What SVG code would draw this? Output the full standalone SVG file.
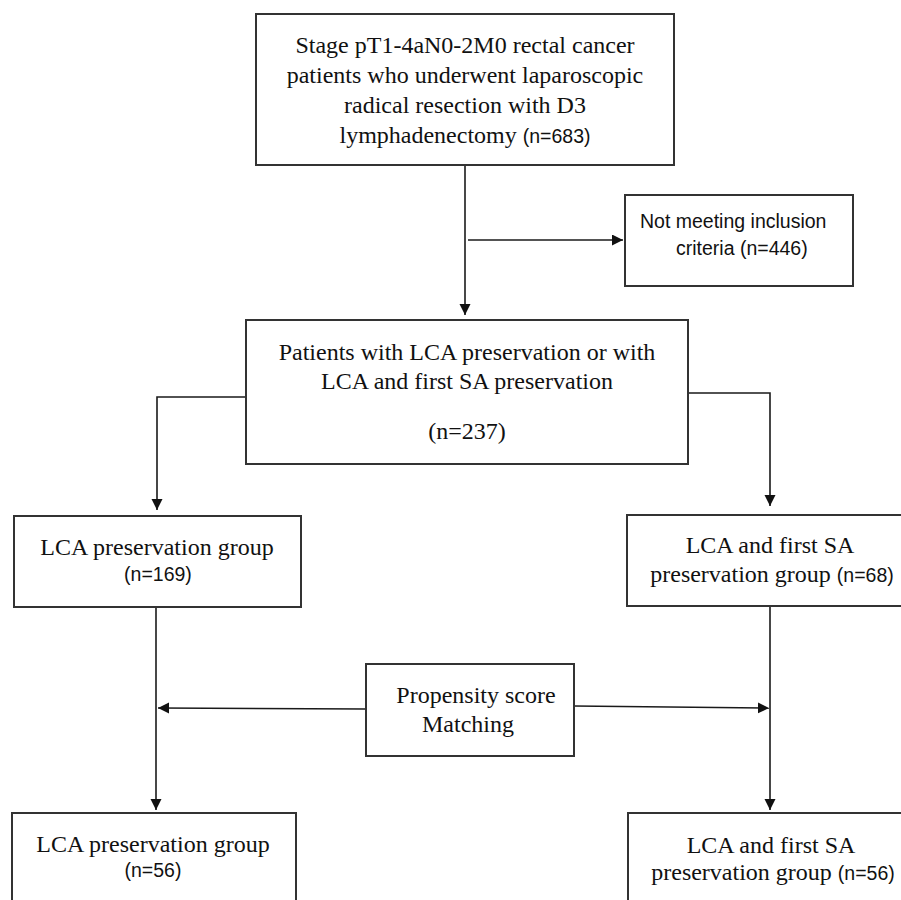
<svg xmlns="http://www.w3.org/2000/svg" width="901" height="900" viewBox="0 0 901 900">
<style>
.box{fill:#fff;stroke:#333;stroke-width:2}
.ln{fill:none;stroke:#1a1a1a;stroke-width:1.6}
.t{font-family:"Liberation Serif","Times New Roman",serif;font-size:24px;fill:#111}
.s{font-family:"Liberation Sans",Arial,sans-serif;font-size:19.5px;fill:#111}
.m{text-anchor:middle}
</style>
<defs>
<marker id="ah" markerUnits="userSpaceOnUse" markerWidth="12" markerHeight="12" refX="11" refY="5.5" orient="auto">
<path d="M0,0 L11,5.5 L0,11 z" fill="#111"/>
</marker>
</defs>
<rect width="901" height="900" fill="#fff"/>
<g id="connectors">
<path class="ln" d="M465,165 V315" marker-end="url(#ah)"/>
<path class="ln" d="M468,240 H623" marker-end="url(#ah)"/>
<path class="ln" d="M246,397 H157 V510" marker-end="url(#ah)"/>
<path class="ln" d="M688,393 H770 V506" marker-end="url(#ah)"/>
<path class="ln" d="M156,607 V810" marker-end="url(#ah)"/>
<path class="ln" d="M770,606 V810" marker-end="url(#ah)"/>
<path class="ln" d="M366,709 L158,708" marker-end="url(#ah)"/>
<path class="ln" d="M574,706 L769,708" marker-end="url(#ah)"/>
</g>
<g id="n-start">
<rect class="box" x="256" y="14" width="418" height="151"/>
<text class="t m" x="465" y="53">Stage pT1-4aN0-2M0 rectal cancer</text>
<text class="t m" x="465" y="83">patients who underwent laparoscopic</text>
<text class="t m" x="465" y="113">radical resection with D3</text>
<text class="t m" x="465" y="143">lymphadenectomy <tspan class="s">(n=683)</tspan></text>
</g>
<g id="n-excluded">
<rect class="box" x="625" y="195" width="228" height="91"/>
<text class="s" x="640" y="228">Not meeting inclusion</text>
<text class="s" x="676" y="255">criteria (n=446)</text>
</g>
<g id="n-eligible">
<rect class="box" x="246" y="320" width="442" height="144"/>
<text class="t m" x="467" y="360">Patients with LCA preservation or with</text>
<text class="t m" x="467" y="389">LCA and first SA preservation</text>
<text class="t m" x="467" y="439">(n=237)</text>
</g>
<g id="n-lca">
<rect class="box" x="14" y="516" width="287" height="91"/>
<text class="t m" x="157" y="555">LCA preservation group</text>
<text class="s m" x="158" y="581">(n=169)</text>
</g>
<g id="n-lcasa">
<rect class="box" x="627" y="515" width="280" height="91"/>
<text class="t m" x="770" y="553">LCA and first SA</text>
<text class="t m" x="772" y="582">preservation group <tspan class="s">(n=68)</tspan></text>
</g>
<g id="n-psm">
<rect class="box" x="366" y="664" width="208" height="92"/>
<text class="t m" x="476" y="703">Propensity score</text>
<text class="t m" x="468" y="732">Matching</text>
</g>
<g id="n-lca-matched">
<rect class="box" x="12" y="813" width="284" height="100"/>
<text class="t m" x="153" y="852">LCA preservation group</text>
<text class="s m" x="153" y="877">(n=56)</text>
</g>
<g id="n-lcasa-matched">
<rect class="box" x="628" y="813" width="280" height="100"/>
<text class="t m" x="771" y="853">LCA and first SA</text>
<text class="t m" x="773" y="880">preservation group <tspan class="s">(n=56)</tspan></text>
</g>
</svg>
